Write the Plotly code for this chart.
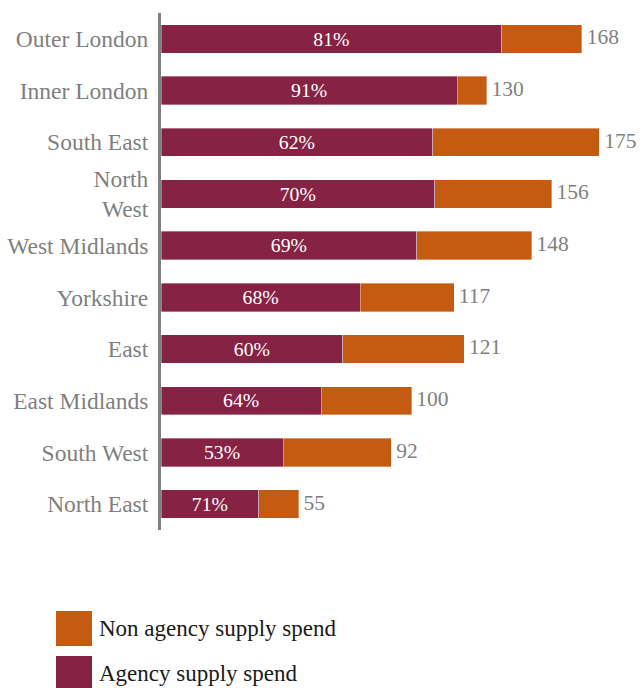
import plotly.graph_objects as go

regions = ["Outer London", "Inner London", "South East", "North<br>West", "West Midlands",
           "Yorkshire", "East", "East Midlands", "South West", "North East"]
agency_pct = [81, 91, 62, 70, 69, 68, 60, 64, 53, 71]
totals = [168, 130, 175, 156, 148, 117, 121, 100, 92, 55]

agency = [t * p / 100 for t, p in zip(totals, agency_pct)]
non_agency = [t - a for t, a in zip(totals, agency)]

C_AG = "#862345"
C_NON = "#C55A11"
GREY = "#7f7f7f"
FONT = "Tinos"

fig = go.Figure()
fig.add_trace(go.Bar(
    y=regions, x=agency, orientation="h", name="Agency supply spend",
    marker=dict(color=C_AG, line=dict(color="rgba(255,255,255,0.6)", width=0.6)),
    text=[f"{p}%" for p in agency_pct], textposition="inside", insidetextanchor="middle",
    textfont=dict(color="white", size=22, family=FONT), width=0.55, cliponaxis=False,
))
fig.add_trace(go.Bar(
    y=regions, x=non_agency, orientation="h", name="Non agency supply spend",
    marker=dict(color=C_NON, line=dict(color="rgba(255,255,255,0.6)", width=0.6)),
    width=0.55, cliponaxis=False,
))
fig.add_trace(go.Scatter(
    y=regions, x=totals, mode="markers+text", text=[str(t) for t in totals],
    marker=dict(size=6, opacity=0),
    textposition="middle right", textfont=dict(color=GREY, size=21.5, family=FONT),
    cliponaxis=False, showlegend=False, hoverinfo="skip",
))

L, T, W, H = 161, 13, 476, 517


def px(x):
    return (x - L) / W


def py(y):
    return (T + H - y) / H


shapes = []
annotations = []
for (y0, y1, color, label) in [(611, 646, C_NON, "Non agency supply spend"),
                               (656, 691, C_AG, "Agency supply spend")]:
    shapes.append(dict(type="rect", xref="paper", yref="paper",
                       x0=px(56), x1=px(92), y0=py(y1), y1=py(y0),
                       fillcolor=color, line=dict(width=0)))
    annotations.append(dict(xref="paper", yref="paper", x=px(97), y=py((y0 + y1) / 2),
                            text=label, showarrow=False, xanchor="left", yanchor="middle",
                            font=dict(size=23, color="#1a1a1a", family=FONT)))

fig.update_layout(
    barmode="stack",
    width=642, height=688,
    margin=dict(l=L, r=642 - L - W, t=T, b=688 - T - H, autoexpand=False),
    paper_bgcolor="white", plot_bgcolor="white",
    showlegend=False,
    shapes=shapes, annotations=annotations,
    font=dict(family=FONT),
)
fig.update_xaxes(range=[0, 190], visible=False, showgrid=False, zeroline=False, automargin=False)
fig.update_yaxes(range=[9.5, -0.5], showline=True, linecolor="#808080", linewidth=3,
                 showgrid=False, zeroline=False, ticks="", ticklabelstandoff=5, automargin=False,
                 tickfont=dict(size=23.5, color=GREY, family=FONT))

fig.write_html("out.html")
